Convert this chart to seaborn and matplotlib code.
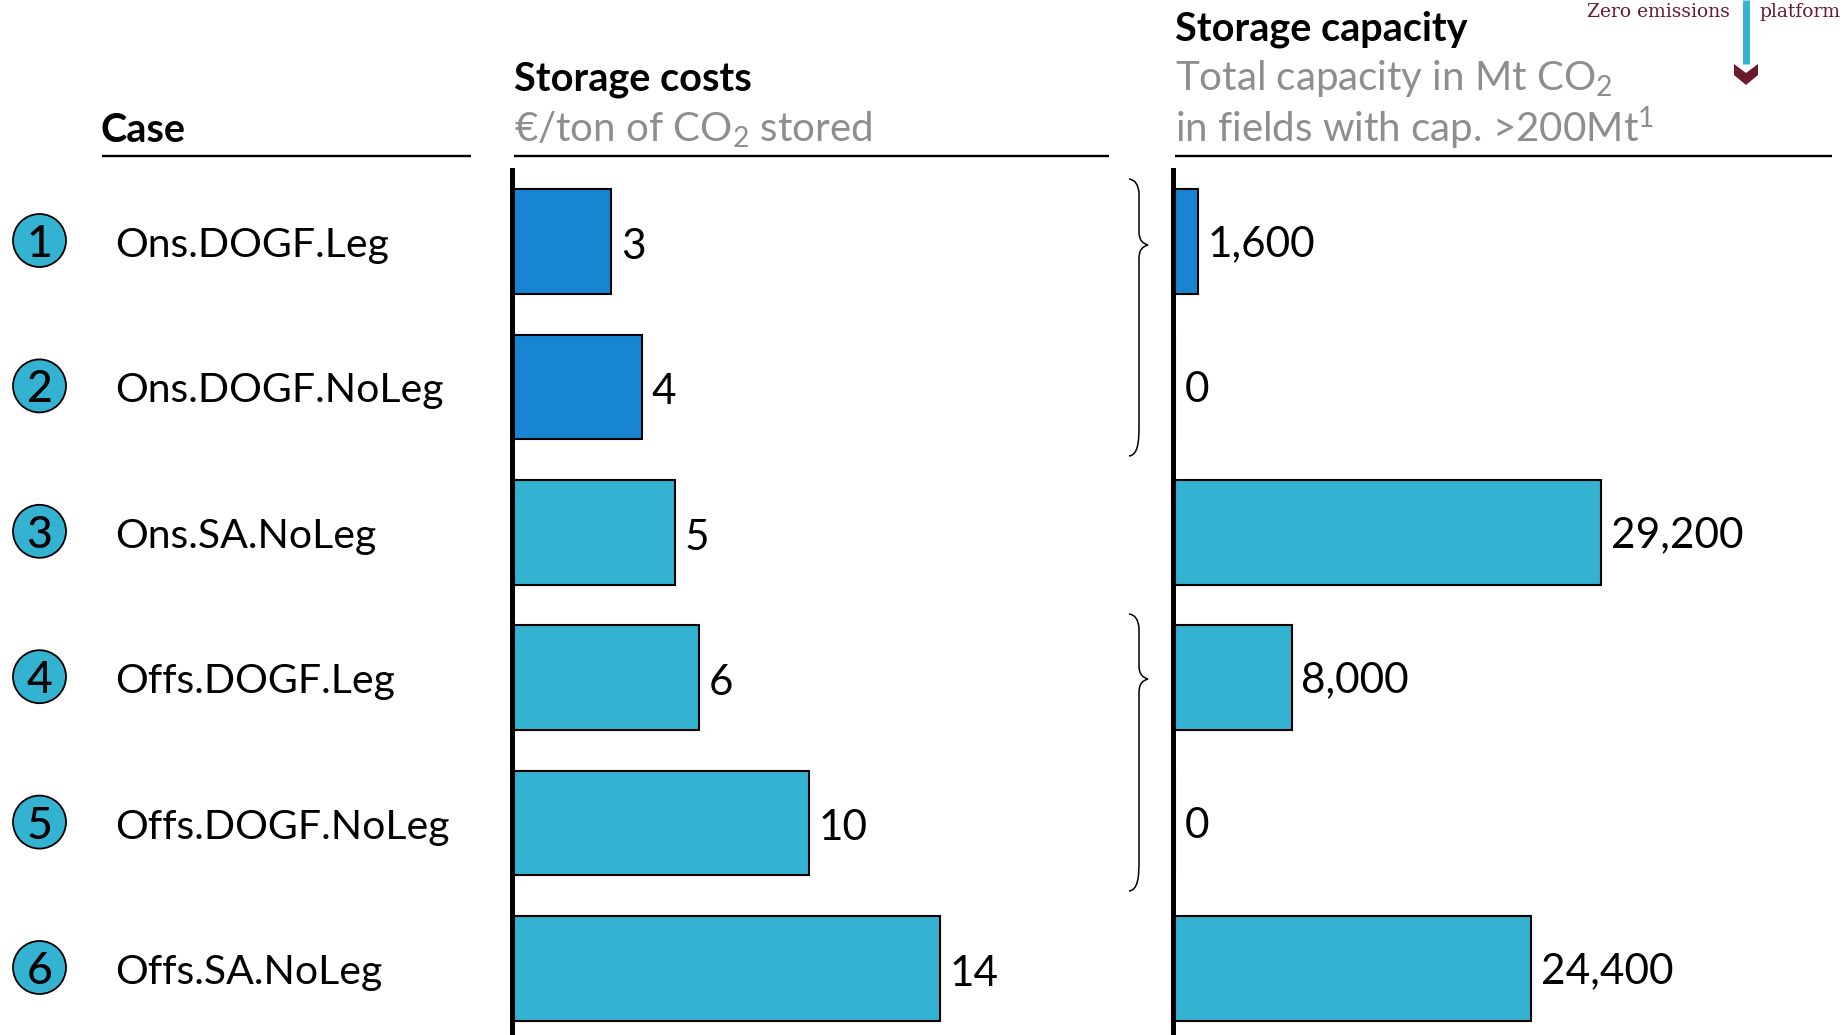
import matplotlib
matplotlib.use("Agg")
import matplotlib.pyplot as plt
from matplotlib.patches import Circle, PathPatch, Polygon
from matplotlib.path import Path
import pandas as pd
import seaborn as sns

cases = ["Ons.DOGF.Leg", "Ons.DOGF.NoLeg", "Ons.SA.NoLeg", "Offs.DOGF.Leg", "Offs.DOGF.NoLeg", "Offs.SA.NoLeg"]
case_numbers = ["1", "2", "3", "4", "5", "6"]
cost_bars = [3.2, 4.2, 5.3, 6.1, 9.7, 14.0]
cost_labels = ["3", "4", "5", "6", "10", "14"]
capacity = [1600, 0, 29200, 8000, 0, 24400]
capacity_labels = ["1,600", "0", "29,200", "8,000", "0", "24,400"]
bar_colors = ["#1785D1", "#1785D1", "#33B2D1", "#33B2D1", "#33B2D1", "#33B2D1"]

CYAN = "#33B2D1"
MAROON = "#6B1A2E"
GREY = "#8E8E8E"
W, H = 1847, 1035

sns.set_theme(style="white")
plt.rcParams["font.family"] = ["Lato", "DejaVu Sans"]
plt.rcParams["mathtext.fontset"] = "custom"
plt.rcParams["mathtext.rm"] = "Lato"
plt.rcParams["mathtext.default"] = "regular"

df = pd.DataFrame({"case": cases, "cost": cost_bars, "capacity": capacity})
fig = plt.figure(figsize=(W / 100, H / 100), dpi=100, facecolor="white")


def panel(left, right, top, bottom):
    return fig.add_axes([left / W, 1 - bottom / H, (right - left) / W, (bottom - top) / H])


def draw(ax, col, labels, xmax, dy):
    sns.barplot(data=df, y="case", x=col, hue="case", palette=bar_colors, order=cases, hue_order=cases,
                dodge=False, legend=False, width=0.72, saturation=1, edgecolor="black", linewidth=1.5, ax=ax)
    ax.set_xlim(0, xmax)
    ax.set_ylim(5.457, -0.492)
    ax.set(xlabel="", ylabel="", xticks=[], yticks=[])
    sns.despine(ax=ax, top=True, right=True, bottom=True)
    ax.spines["left"].set_linewidth(3.6)
    ax.spines["left"].set_color("black")
    ax.spines["left"].set_position(("outward", 1.5))
    for cont, lab in zip(ax.containers, labels):
        for ann in ax.bar_label(cont, labels=[lab], padding=7, fontsize=30.5, color="black"):
            x, y = ann.xyann
            ann.xyann = (x, y - dy)


ax1 = panel(514, 1109, 170, H)
draw(ax1, "cost", cost_labels, 19.57, 3.8)
ax2 = panel(1175, 1832, 170, H)
draw(ax2, "capacity", capacity_labels, 45030, 2.0)

ov = fig.add_axes([0, 0, 1, 1], facecolor="none")
ov.set_xlim(0, W)
ov.set_ylim(H, 0)
ov.axis("off")

for x0, x1 in [(102, 471), (514, 1109), (1175, 1832)]:
    ov.plot([x0, x1], [156, 156], color="black", lw=1.7, solid_capstyle="butt")

HEAD = dict(fontsize=28.5, fontweight="bold", color="black", va="baseline")
SUB = dict(fontsize=29, color=GREY, va="baseline")
ov.text(101, 142, "Case", **HEAD)
ov.text(514, 90, "Storage costs", **HEAD)
ov.text(1175, 40, "Storage capacity", **HEAD)
ov.text(514, 142, "€/ton of CO$_2$ stored", **SUB)
ov.text(1175, 90, "Total capacity in Mt CO$_2$", **SUB)
ov.text(1175, 142, "in fields with cap. >200Mt$^1$", **SUB)

centers = [241.5 + 145.4 * i for i in range(6)]
for yc, name, num in zip(centers, cases, case_numbers):
    ov.add_patch(Circle((39.5, yc - 1), 26.5, facecolor=CYAN, edgecolor="black", lw=1.3))
    ov.text(39.5, yc - 1, num, ha="center", va="center_baseline", fontsize=32, fontweight="medium", color="black")
    ov.text(115, yc + 15.5, name, ha="left", va="baseline", fontsize=29.5, color="black")


def brace(top, tip, bottom):
    x0, xm, xt = 1129, 1139, 1148
    verts = [(x0, top), (xm - 1, top + 1), (xm, top + 14),
             (xm, top + 30),
             (xm, tip - 14),
             (xm, tip - 5), (xm + 3, tip - 2), (xt, tip),
             (xm + 3, tip + 2), (xm, tip + 5), (xm, tip + 14),
             (xm, bottom - 30),
             (xm, bottom - 14), (xm - 1, bottom - 1), (x0, bottom)]
    codes = [Path.MOVETO, Path.CURVE3, Path.CURVE3,
             Path.LINETO,
             Path.LINETO,
             Path.CURVE4, Path.CURVE4, Path.CURVE4,
             Path.CURVE4, Path.CURVE4, Path.CURVE4,
             Path.LINETO,
             Path.CURVE4, Path.CURVE4, Path.CURVE4]
    ov.add_patch(PathPatch(Path(verts, codes), fill=False, edgecolor="black", lw=1.1))


brace(179, 245, 456)
brace(614, 679, 891)

ov.text(1587, 17, "Zero emissions", family="DejaVu Serif", fontsize=13.5, color=MAROON, va="baseline")
ov.text(1760, 17, "platform", family="DejaVu Serif", fontsize=13.5, color=MAROON, va="baseline")
ov.plot([1746, 1746], [0, 64], color=CYAN, lw=5, solid_capstyle="butt")
ov.add_patch(Polygon([(1734, 64), (1746, 73), (1758, 64), (1758, 75), (1746, 85), (1734, 75)],
                     closed=True, facecolor=MAROON, edgecolor="none"))

fig.savefig("out.png", dpi=100, facecolor="white")
